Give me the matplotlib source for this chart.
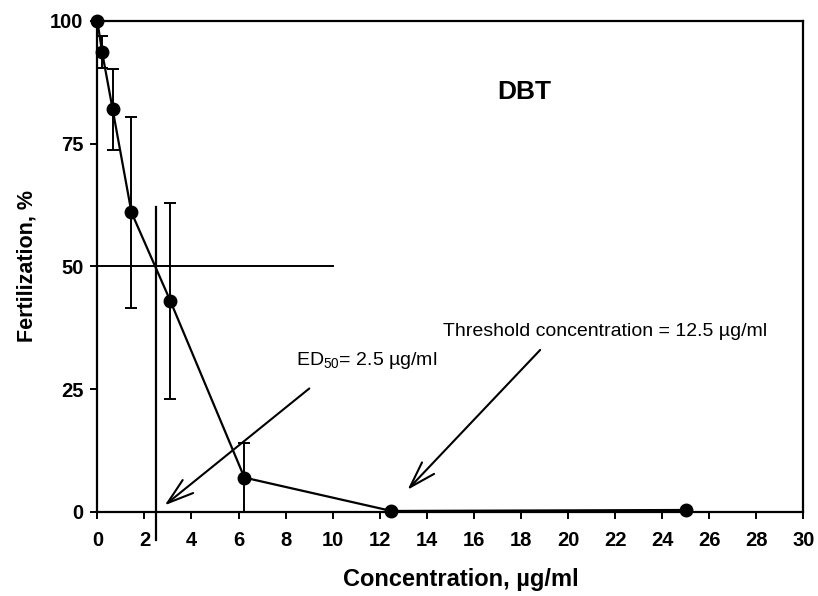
import numpy as np
import matplotlib.pyplot as plt

plt.rcParams['font.family'] = ['Liberation Sans', 'DejaVu Sans']
plt.rcParams['mathtext.fontset'] = 'custom'
plt.rcParams['mathtext.rm'] = 'Liberation Sans'
plt.rcParams['mathtext.it'] = 'Liberation Sans'

# dose-response data for DBT
conc = [0, 0.2, 0.65, 1.45, 3.1, 6.25, 12.5, 25]
fert = [100, 93.7, 82, 61, 43, 7, 0.2, 0.4]
err = [0, 3.2, 8.2, 19.4, 20, 7, 0, 0]

ed50 = 2.5
threshold = 12.5

fig = plt.figure(figsize=(8.18, 5.96), dpi=100)
ax = fig.add_axes([0.119, 0.141, 0.863, 0.824])

ax.errorbar(conc, fert, yerr=err, color='black', lw=1.6, marker='o',
            markersize=9, capsize=4, capthick=1.4, elinewidth=1.4,
            clip_on=False, zorder=3)

# ED50 construction lines
ax.plot([0, 10], [50, 50], color='black', lw=1.4)
ax.plot([ed50, ed50], [62, -5.7], color='black', lw=1.6, clip_on=False)

arrow = dict(arrowstyle='->,head_length=1.9,head_width=0.6', color='black', lw=1.5)
ax.annotate('', xy=(2.77, 1.0), xytext=(9.1, 25.5), arrowprops=arrow)
ax.annotate('', xy=(13.1, 4.1), xytext=(18.9, 33.4), arrowprops=arrow)

ax.text(8.45, 28.7, 'ED$_{50}$= 2.5 \u00b5g/ml', fontsize=14, va='bottom', ha='left')
ax.text(14.7, 36.7, 'Threshold concentration = 12.5 \u00b5g/ml', fontsize=14,
        va='center', ha='left')
ax.text(17.0, 85.5, 'DBT', fontsize=19, fontweight='bold', va='center', ha='left')

ax.set_xlim(0, 30)
ax.set_ylim(0, 100)
ax.set_xticks(np.arange(0, 31, 2))
ax.set_yticks([0, 25, 50, 75, 100])
ax.tick_params(direction='out', length=5, width=1.4, labelsize=14.5)
ax.tick_params(axis='x', pad=9)
ax.tick_params(axis='y', pad=5)
for lbl in ax.get_xticklabels() + ax.get_yticklabels():
    lbl.set_fontweight('bold')
for s in ax.spines.values():
    s.set_linewidth(1.6)

ax.set_xlabel('Concentration, \u00b5g/ml', fontsize=17, fontweight='bold')
ax.xaxis.set_label_coords(0.515, -0.115)
ax.set_ylabel('Fertilization, %', fontsize=15.5, fontweight='bold', labelpad=9)

plt.savefig('out.png', dpi=100)
